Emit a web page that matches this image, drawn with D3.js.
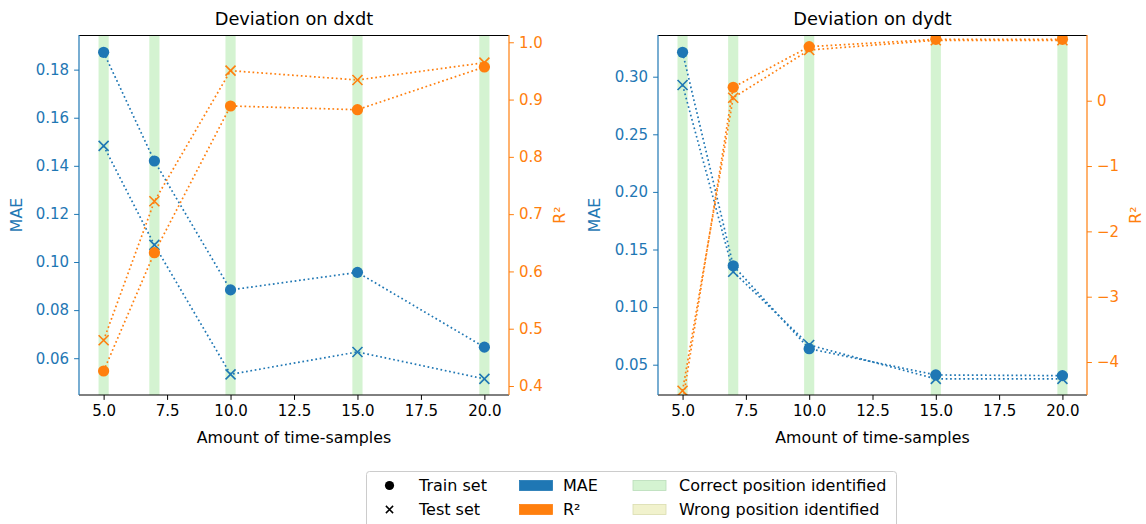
<!DOCTYPE html>
<html>
<head>
<meta charset="utf-8">
<script src="https://cdn.jsdelivr.net/npm/d3@7"></script>
<style>
  html, body { margin: 0; padding: 0; background: #fff; }
  svg { display: block; font-family: "DejaVu Sans", sans-serif; }
</style>
</head>
<body>
<svg id="chart" width="1146" height="524"></svg>
<script>
// Number of time samples used for each fit
const samples = [5, 7, 10, 15, 20];
const xTicks = [5, 7.5, 10, 12.5, 15, 17.5, 20];

// Deviation on dxdt
const dxdtMaeTrain = [0.1872, 0.1420, 0.0884, 0.0957, 0.0646];
const dxdtMaeTest  = [0.1483, 0.1071, 0.0533, 0.0626, 0.0514];
const dxdtR2Train  = [0.4262, 0.6327, 0.8888, 0.8823, 0.9569];
const dxdtR2Test   = [0.4798, 0.7224, 0.9504, 0.9342, 0.9644];
const dxdtCorrect  = [true, true, true, true, true];
const dxdtMaeTicks = [0.06, 0.08, 0.10, 0.12, 0.14, 0.16, 0.18];
const dxdtR2Ticks  = [0.4, 0.5, 0.6, 0.7, 0.8, 0.9, 1.0];

// Deviation on dydt
const dydtMaeTrain = [0.3212, 0.1359, 0.0639, 0.0411, 0.0405];
const dydtMaeTest  = [0.2928, 0.1307, 0.0671, 0.0377, 0.0377];
const dydtR2Train  = [-4.62, 0.205, 0.827, 0.94, 0.94];
const dydtR2Test   = [-4.44, 0.046, 0.776, 0.925, 0.925];
const dydtCorrect  = [true, true, true, true, true];
const dydtMaeTicks = [0.05, 0.10, 0.15, 0.20, 0.25, 0.30];
const dydtR2Ticks  = [-4, -3, -2, -1, 0];

const BLUE = "#1f77b4", ORANGE = "#ff7f0e";
const GOOD = "rgb(212,243,209)", BAD = "rgb(241,242,205)";
const TICK_FS = "15px", LABEL_FS = "15.8px", TITLE_FS = "17.8px", LEGEND_FS = "16px";

const svg = d3.select("#chart");

function panel(opts) {
  const { left, top, width, height, title } = opts;
  const g = svg.append("g").attr("transform", `translate(${left},${top})`);
  const clipId = "clip-" + opts.id;
  g.append("clipPath").attr("id", clipId)
    .append("rect").attr("width", width).attr("height", height);

  const x = d3.scaleLinear().domain([4.03, 20.97]).range([0, width]);
  const yMae = d3.scaleLinear().domain(opts.maeDomain).range([height, 0]);
  const yR2 = d3.scaleLinear().domain(opts.r2Domain).range([height, 0]);

  const plot = g.append("g").attr("clip-path", `url(#${clipId})`);

  // shaded spans marking whether the position was identified
  plot.selectAll("rect.span").data(samples).join("rect")
    .attr("class", "span")
    .attr("x", d => x(d - 0.2))
    .attr("width", d => x(d + 0.2) - x(d - 0.2))
    .attr("y", 0).attr("height", height)
    .attr("fill", (d, i) => opts.correct[i] ? GOOD : BAD);

  function series(values, y, color, marker) {
    const pts = samples.map((s, i) => [s, values[i]]);
    plot.append("path")
      .attr("d", d3.line().x(d => x(d[0])).y(d => y(d[1]))(pts))
      .attr("fill", "none").attr("stroke", color)
      .attr("stroke-width", 1.7).attr("stroke-dasharray", "1.7,2.7");
    if (marker === "o") {
      plot.append("g").selectAll("circle").data(pts).join("circle")
        .attr("cx", d => x(d[0])).attr("cy", d => y(d[1]))
        .attr("r", 5.6).attr("fill", color);
    } else {
      const s = 5;
      plot.append("g").selectAll("path").data(pts).join("path")
        .attr("d", d => {
          const cx = x(d[0]), cy = y(d[1]);
          return `M${cx - s},${cy - s}L${cx + s},${cy + s}M${cx - s},${cy + s}L${cx + s},${cy - s}`;
        })
        .attr("stroke", color).attr("stroke-width", 1.6).attr("fill", "none");
    }
  }

  series(opts.maeTrain, yMae, BLUE, "o");
  series(opts.maeTest, yMae, BLUE, "x");
  series(opts.r2Train, yR2, ORANGE, "o");
  series(opts.r2Test, yR2, ORANGE, "x");

  // axes
  const fmtX = d3.format(".1f");
  const gx = g.append("g").attr("transform", `translate(0,${height})`)
    .call(d3.axisBottom(x).tickValues(xTicks).tickFormat(fmtX).tickSize(4.9).tickPadding(5));
  gx.select(".domain").remove();
  gx.selectAll("line").attr("stroke", "#000").attr("stroke-width", 1);
  gx.selectAll("text").attr("fill", "#000").style("font-size", TICK_FS)
    .style("font-family", "DejaVu Sans");

  const gl = g.append("g")
    .call(d3.axisLeft(yMae).tickValues(opts.maeTicks).tickFormat(opts.maeFmt).tickSize(4.9).tickPadding(5));
  gl.select(".domain").remove();
  gl.selectAll("line").attr("stroke", BLUE);
  gl.selectAll("text").attr("fill", BLUE).style("font-size", TICK_FS)
    .style("font-family", "DejaVu Sans");

  const gr = g.append("g").attr("transform", `translate(${width},0)`)
    .call(d3.axisRight(yR2).tickValues(opts.r2Ticks).tickFormat(opts.r2Fmt).tickSize(4.9).tickPadding(5));
  gr.select(".domain").remove();
  gr.selectAll("line").attr("stroke", ORANGE);
  gr.selectAll("text").attr("fill", ORANGE).style("font-size", TICK_FS)
    .style("font-family", "DejaVu Sans");

  // spines
  g.append("line").attr("x1", 0).attr("x2", width).attr("y1", 0.5).attr("y2", 0.5)
    .attr("stroke", "#000").attr("stroke-width", 1);
  g.append("line").attr("x1", 0).attr("x2", width).attr("y1", height).attr("y2", height)
    .attr("stroke", "#000").attr("stroke-width", 1);
  g.append("line").attr("x1", 0).attr("x2", 0).attr("y1", 0).attr("y2", height)
    .attr("stroke", BLUE).attr("stroke-width", 1.2);
  g.append("line").attr("x1", width).attr("x2", width).attr("y1", 0).attr("y2", height)
    .attr("stroke", ORANGE).attr("stroke-width", 1.2);

  // titles and labels
  g.append("text").attr("x", width / 2).attr("y", -10)
    .attr("text-anchor", "middle").style("font-size", TITLE_FS).attr("fill", "#000")
    .text(title);
  g.append("text").attr("x", width / 2).attr("y", height + 48)
    .attr("text-anchor", "middle").style("font-size", LABEL_FS).attr("fill", "#000")
    .text("Amount of time-samples");
  g.append("text")
    .attr("transform", `translate(${opts.maeLabelX},${height / 2}) rotate(-90)`)
    .attr("text-anchor", "middle").attr("dominant-baseline", "central")
    .style("font-size", LABEL_FS).attr("fill", BLUE).text("MAE");
  g.append("text")
    .attr("transform", `translate(${opts.r2LabelX},${height / 2}) rotate(-90)`)
    .attr("text-anchor", "middle").attr("dominant-baseline", "central")
    .style("font-size", LABEL_FS).attr("fill", ORANGE).text("R²");
}

const minusFmt = d => d3.format("d")(d).replace("-", "\u2212");

panel({
  id: "dxdt", left: 79, top: 35, width: 430, height: 360,
  title: "Deviation on dxdt",
  maeDomain: [0.0447, 0.1944], r2Domain: [0.3843, 1.0127],
  maeTrain: dxdtMaeTrain, maeTest: dxdtMaeTest,
  r2Train: dxdtR2Train, r2Test: dxdtR2Test,
  correct: dxdtCorrect,
  maeTicks: dxdtMaeTicks, maeFmt: d3.format(".2f"),
  r2Ticks: dxdtR2Ticks, r2Fmt: d3.format(".1f"),
  maeLabelX: -63, r2LabelX: 480
});

panel({
  id: "dydt", left: 658, top: 35, width: 429, height: 360,
  title: "Deviation on dydt",
  maeDomain: [0.0237, 0.3362], r2Domain: [-4.505, 1.006],
  maeTrain: dydtMaeTrain, maeTest: dydtMaeTest,
  r2Train: dydtR2Train, r2Test: dydtR2Test,
  correct: dydtCorrect,
  maeTicks: dydtMaeTicks, maeFmt: d3.format(".2f"),
  r2Ticks: dydtR2Ticks, r2Fmt: minusFmt,
  maeLabelX: -64, r2LabelX: 477
});

// legend
const legend = svg.append("g");
legend.append("rect").attr("x", 366.5).attr("y", 471.5).attr("width", 530).attr("height", 62)
  .attr("rx", 3).attr("fill", "#fff").attr("stroke", "#cccccc").attr("stroke-width", 1);

const rowY = [485.5, 509.5];

legend.append("circle").attr("cx", 389.5).attr("cy", rowY[0]).attr("r", 4.6).attr("fill", "#000");
legend.append("path")
  .attr("d", `M${389.5 - 3.6},${rowY[1] - 3.6}L${389.5 + 3.6},${rowY[1] + 3.6}M${389.5 - 3.6},${rowY[1] + 3.6}L${389.5 + 3.6},${rowY[1] - 3.6}`)
  .attr("stroke", "#000").attr("stroke-width", 1.5);

const legendRows = [
  { x: 419, y: rowY[0], text: "Train set" },
  { x: 419, y: rowY[1], text: "Test set" },
  { x: 563, y: rowY[0], text: "MAE" },
  { x: 563, y: rowY[1], text: "R²" },
  { x: 679, y: rowY[0], text: "Correct position identified" },
  { x: 679, y: rowY[1], text: "Wrong position identified" }
];
legend.selectAll("text").data(legendRows).join("text")
  .attr("x", d => d.x).attr("y", d => d.y)
  .attr("dominant-baseline", "central")
  .style("font-size", LEGEND_FS).attr("fill", "#000")
  .text(d => d.text);

const patches = [
  { x: 519.5, y: rowY[0], fill: BLUE, stroke: BLUE },
  { x: 519.5, y: rowY[1], fill: ORANGE, stroke: ORANGE },
  { x: 633, y: rowY[0], fill: GOOD, stroke: "rgb(185,220,185)" },
  { x: 633, y: rowY[1], fill: BAD, stroke: "rgb(218,220,175)" }
];
legend.selectAll("rect.patch").data(patches).join("rect")
  .attr("class", "patch")
  .attr("x", d => d.x).attr("y", d => d.y - 5)
  .attr("width", 33).attr("height", 10)
  .attr("fill", d => d.fill).attr("stroke", d => d.stroke).attr("stroke-width", 0.8);
</script>
</body>
</html>
